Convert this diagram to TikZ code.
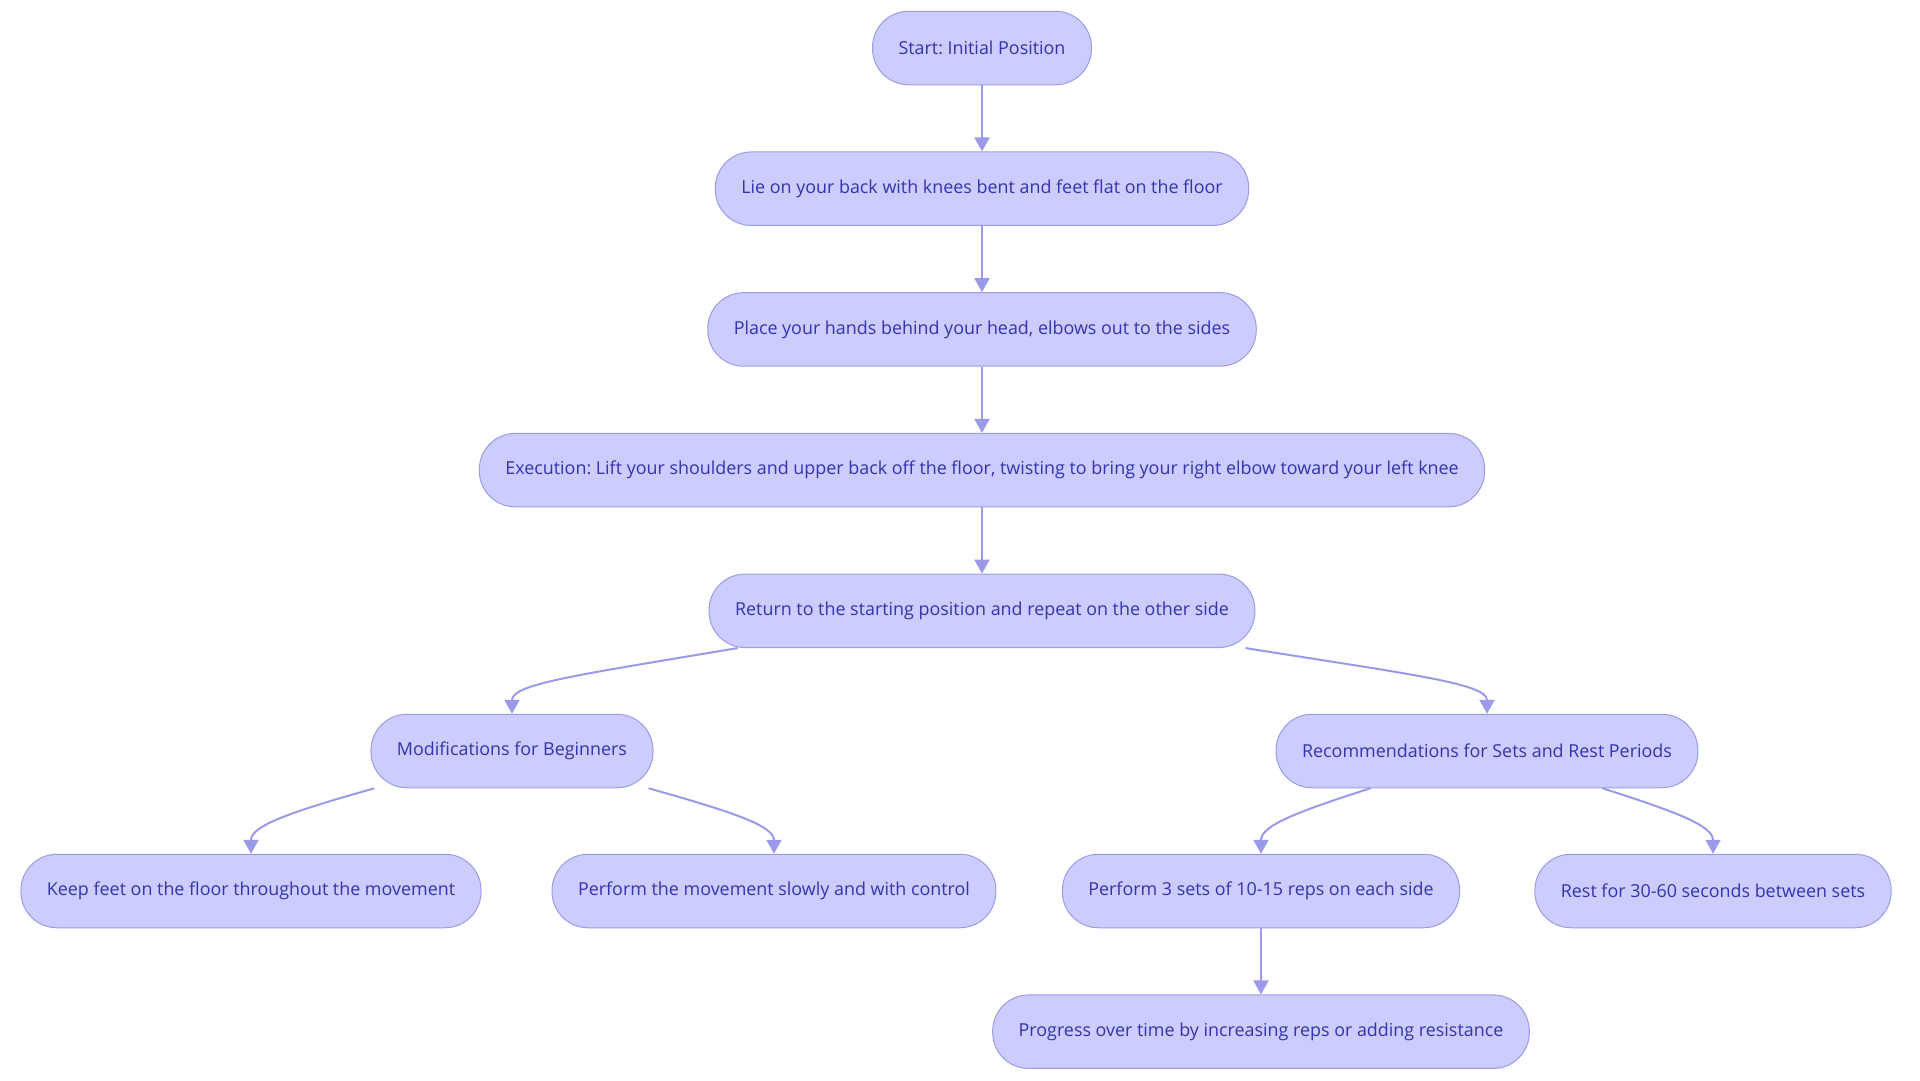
\documentclass[tikz,border=0pt]{standalone}
\usepackage{fontspec}
\setmainfont{Open Sans}
\usepackage{tikz}
\usetikzlibrary{positioning,arrows.meta}
\frenchspacing

\definecolor{boxfill}{HTML}{CCCCFF}
\definecolor{boxline}{HTML}{9C9CE6}
\definecolor{boxtext}{HTML}{3434AE}
\definecolor{linkcol}{HTML}{9A9AE8}

\tikzset{
	stepbox/.style={draw=boxline, fill=boxfill, text=boxtext, line width=1pt,
		rounded corners=36pt, minimum height=73.5pt, inner xsep=26pt,
		font=\fontsize{17.9}{21}\selectfont},
	link/.style={draw=linkcol, line width=2pt,
		-{Triangle[length=14pt,width=15pt]}}
}

\begin{document}
\begin{tikzpicture}[node distance=66.2pt]
	\useasboundingbox (0pt,0pt) rectangle (1920pt,-1080pt);

	% main column
	\node[stepbox] (start) at (982pt,-48pt) {Start: Initial Position};
	\node[stepbox, below=of start] (lie) {Lie on your back with knees bent and feet flat on the floor};
	\node[stepbox, below=of lie] (hands) {Place your hands behind your head, elbows out to the sides};
	\node[stepbox, below=of hands] (exec) {Execution: Lift your shoulders and upper back off the floor, twisting to bring your right elbow toward your left knee};
	\node[stepbox, below=of exec] (ret) {Return to the starting position and repeat on the other side};

	% branches
	\node[stepbox] (mod) at (512pt,-751pt) {Modifications for Beginners};
	\node[stepbox] (rec) at (1487pt,-751pt) {Recommendations for Sets and Rest Periods};
	\node[stepbox] (feet) at (251pt,-891pt) {Keep feet on the floor throughout the movement};
	\node[stepbox] (slow) at (774pt,-891pt) {Perform the movement slowly and with control};
	\node[stepbox] (sets) at (1261pt,-891pt) {Perform 3 sets of 10-15 reps on each side};
	\node[stepbox] (rest) at (1713pt,-891pt) {Rest for 30-60 seconds between sets};
	\node[stepbox, below=of sets] (prog) {Progress over time by increasing reps or adding resistance};

	\draw[link] (start) -- (lie);
	\draw[link] (lie) -- (hands);
	\draw[link] (hands) -- (exec);
	\draw[link] (exec) -- (ret);
	\draw[link] ([xshift=29pt]ret.south west) .. controls +(-160pt,-27pt) and +(0pt,30pt) .. (mod.north);
	\draw[link] ([xshift=-10pt]ret.south east) .. controls +(170pt,-27pt) and +(0pt,30pt) .. (rec.north);
	\draw[link] ([xshift=4pt]mod.south west) .. controls +(-85pt,-24pt) and +(0pt,28pt) .. (feet.north);
	\draw[link] ([xshift=-5pt]mod.south east) .. controls +(85pt,-24pt) and +(0pt,28pt) .. (slow.north);
	\draw[link] ([xshift=95pt]rec.south west) .. controls +(-75pt,-24pt) and +(0pt,28pt) .. (sets.north);
	\draw[link] ([xshift=-96pt]rec.south east) .. controls +(75pt,-24pt) and +(0pt,28pt) .. (rest.north);
	\draw[link] (sets) -- (prog);
\end{tikzpicture}
\end{document}
